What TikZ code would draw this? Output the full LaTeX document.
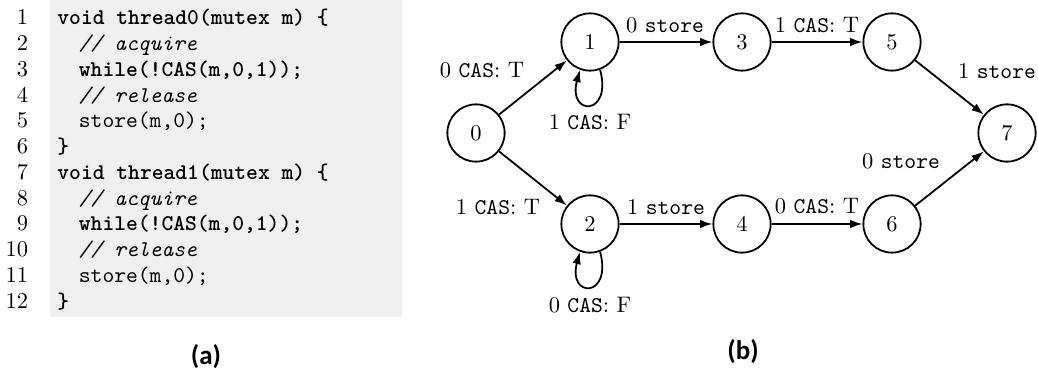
\documentclass[tikz,border=0pt]{standalone}
\usepackage{fontspec}
\newfontfamily\capfont{Carlito}
\usetikzlibrary{arrows.meta}
\begin{document}
\begin{tikzpicture}[x=0.445pt,y=0.445pt,
  state/.style={circle,draw,line width=0.8pt,minimum size=25.5pt,inner sep=0pt,font=\fontsize{10}{12}\selectfont},
  arr/.style={-{Latex[length=5.5pt,width=3.8pt]},line width=0.8pt},
  lbl/.style={anchor=base,inner sep=0pt,font=\fontsize{10}{12}\selectfont},
  lnum/.style={anchor=base east,inner sep=0pt,font=\fontsize{10}{12}\selectfont},
  code/.style={anchor=base west,inner sep=0pt,font=\fontsize{10}{12}\selectfont\ttfamily},
  subcap/.style={inner sep=0pt,font=\capfont\bfseries\fontsize{12}{14}\selectfont}]
\useasboundingbox (0,0) rectangle (1038,-378);
% code box
\fill[gray!12] (50,0) rectangle (402,-317);
\foreach \i in {1,...,12} {
  \node[lnum] (ln\i) at (28.5,{-25-(\i-1)*25.73}) {\i};
}
\node[code] (c1) at (57,-25) {\bfseries void thread0(mutex m) \{};
\node[code] (c2) at (78.5,{-25-1*25.73}) {\itshape // acquire};
\node[code] (c3) at (78.5,{-25-2*25.73}) {\bfseries while(!CAS(m,0,1));};
\node[code] (c4) at (78.5,{-25-3*25.73}) {\itshape // release};
\node[code] (c5) at (78.5,{-25-4*25.73}) {store(m,0);};
\node[code] (c6) at (57,{-25-5*25.73}) {\bfseries \}};
\node[code] (c7) at (57,{-25-6*25.73}) {\bfseries void thread1(mutex m) \{};
\node[code] (c8) at (78.5,{-25-7*25.73}) {\itshape // acquire};
\node[code] (c9) at (78.5,{-25-8*25.73}) {\bfseries while(!CAS(m,0,1));};
\node[code] (c10) at (78.5,{-25-9*25.73}) {\itshape // release};
\node[code] (c11) at (78.5,{-25-10*25.73}) {store(m,0);};
\node[code] (c12) at (57,{-25-11*25.73}) {\bfseries \}};
\node[subcap] (capa) at (206,-357) {(a)};
\node[subcap] (capb) at (743,-352) {(b)};
% states
\node[state] (n0) at (476,-133) {0};
\node[state] (n1) at (590,-42) {1};
\node[state] (n3) at (742,-42) {3};
\node[state] (n5) at (892,-42) {5};
\node[state] (n7) at (1007,-133) {7};
\node[state] (n2) at (590,-224) {2};
\node[state] (n4) at (742,-224) {4};
\node[state] (n6) at (892,-224) {6};
% edges
\draw[arr] (n0) -- (n1);
\draw[arr] (n0) -- (n2);
\draw[arr] (n1) -- (n3);
\draw[arr] (n3) -- (n5);
\draw[arr] (n5) -- (n7);
\draw[arr] (n2) -- (n4);
\draw[arr] (n4) -- (n6);
\draw[arr] (n6) -- (n7);
\draw[arr] (n1.-70) to[out=-75,in=-105,distance=21.5pt] (n1.-110);
\draw[arr] (n2.-70) to[out=-75,in=-105,distance=21.5pt] (n2.-110);
% labels
\node[lbl] (l01) at (482,-78) {0 \texttt{CAS}: T};
\node[lbl] (l11) at (590,-130) {1 \texttt{CAS}: F};
\node[lbl] (l13) at (665,-33) {0 \texttt{store}};
\node[lbl] (l35) at (817,-33) {1 \texttt{CAS}: T};
\node[lbl] (l57) at (997,-79) {1 \texttt{store}};
\node[lbl] (l67) at (901,-169) {0 \texttt{store}};
\node[lbl] (l02) at (498,-215) {1 \texttt{CAS}: T};
\node[lbl] (l24) at (666,-215) {1 \texttt{store}};
\node[lbl] (l46) at (817,-214) {0 \texttt{CAS}: T};
\node[lbl] (l22) at (590,-313) {0 \texttt{CAS}: F};
\end{tikzpicture}
\end{document}
